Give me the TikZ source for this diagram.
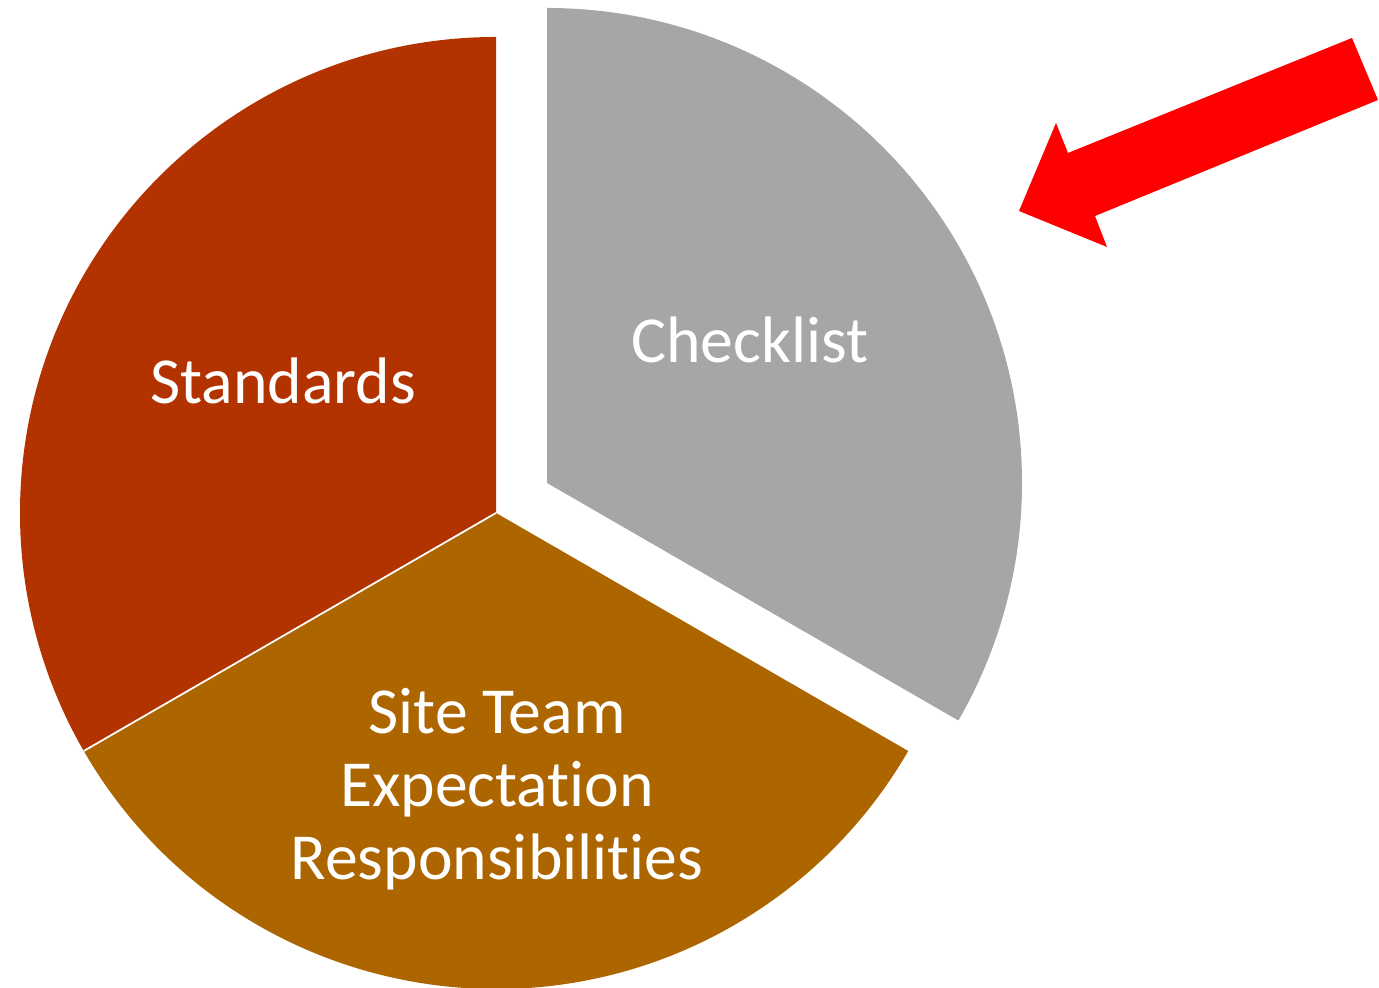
\documentclass[tikz,border=0pt]{standalone}
\usepackage{fontspec}
\setmainfont{Carlito}[Ligatures={NoCommon}]
\usetikzlibrary{calc}
\definecolor{stdcol}{HTML}{B33300}
\definecolor{sitecol}{HTML}{AD6500}
\definecolor{chkcol}{HTML}{A6A6A6}
\definecolor{arrcol}{HTML}{FF0000}
\begin{document}
\begin{tikzpicture}[
  lbl/.style={text=white, align=center, font=\fontsize{18.7}{20.7}\selectfont, inner sep=0pt}
]
\useasboundingbox (0,0) rectangle (13.79,9.88);
\coordinate (C) at (4.96,4.75);
\coordinate (G) at (5.47,5.05);
% Standards
\fill[stdcol] (C) -- ++(90:4.76) arc[start angle=90, end angle=210, radius=4.76] -- cycle;
% Site team
\fill[sitecol] (C) -- ++(210:4.76) arc[start angle=210, end angle=330, radius=4.76] -- cycle;
% separator
\coordinate (S) at ($(C)+(210:4.76)$);
\draw[white, line width=0.5pt] (C) -- (S);
% Checklist (exploded)
\fill[chkcol] (G) -- ++(90:4.75) arc[start angle=90, end angle=-30, radius=4.75] -- cycle;
% labels
\node[lbl] (std) at (2.83,6.07) {Standards};
\node[lbl] (chk) at (7.50,6.48) {Checklist};
\node[lbl] (site) at (4.97,1.99) {Site Team\\Expectation\\Responsibilities};
% arrow
\coordinate (a1) at (10.19,7.77);
\coordinate (a2) at (10.56,8.65);
\coordinate (a3) at (10.68,8.35);
\coordinate (a4) at (13.52,9.50);
\coordinate (a5) at (13.78,8.88);
\coordinate (a6) at (10.95,7.72);
\coordinate (a7) at (11.07,7.41);
\fill[arrcol] (a1) -- (a2) -- (a3) -- (a4) -- (a5) -- (a6) -- (a7) -- cycle;
\end{tikzpicture}
\end{document}
